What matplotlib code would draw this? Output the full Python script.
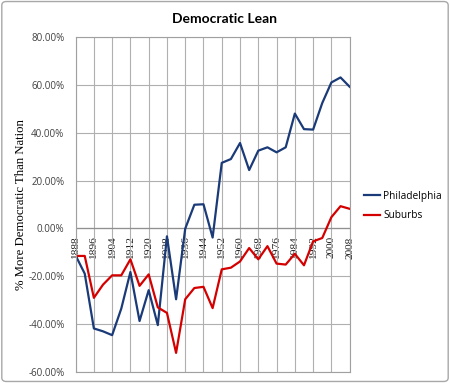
import matplotlib
matplotlib.use("Agg")
import matplotlib.pyplot as plt
from matplotlib.patches import FancyBboxPatch

years = list(range(1888, 2009, 4))
philadelphia = [-11.3, -18.9, -41.8, -43.0, -44.6, -33.5, -18.2, -38.7, -25.8, -40.4,
                -3.3, -29.6, -0.1, 9.9, 10.1, -3.8, 27.4, 29.0, 35.7, 24.4,
                32.5, 33.9, 31.8, 33.9, 48.0, 41.5, 41.3, 52.4, 61.0, 63.1, 59.2]
suburbs = [-11.5, -11.5, -29.0, -23.5, -19.6, -19.6, -12.9, -24.0, -19.2, -33.0,
           -35.3, -52.0, -29.6, -24.9, -24.4, -33.3, -17.1, -16.4, -13.8, -8.2,
           -12.9, -7.4, -14.7, -15.1, -10.6, -15.4, -5.4, -4.0, 4.7, 9.3, 8.2]
tick_years = list(range(1888, 2009, 8))
y_ticks = [-60, -40, -20, 0, 20, 40, 60, 80]

fig = plt.figure(figsize=(4.5, 3.83), dpi=100)
ax = fig.add_axes([0.168, 0.0287, 0.609, 0.8747])

ax.plot(years, philadelphia, color="#1A3A78", lw=1.6, label="Philadelphia")
ax.plot(years, suburbs, color="#D40000", lw=1.6, label="Suburbs")

ax.set_xlim(1888, 2008)
ax.set_ylim(-60, 80)
ax.set_yticks(y_ticks)
ax.set_yticklabels([f"{v:.2f}%" for v in y_ticks], fontsize=7, color="#404040",
                   family="Open Sans")
ax.set_xticks(tick_years)
ax.set_xticklabels([])
ax.tick_params(axis="x", length=0)
ax.tick_params(axis="y", length=0, pad=8)
ax.grid(True, color="#B0B0B0", lw=0.8)
ax.set_axisbelow(True)
for s in ["left", "right", "top", "bottom"]:
    ax.spines[s].set_color("#A0A0A0")
    ax.spines[s].set_linewidth(0.8)
ax.axhline(0, color="#909090", lw=0.9, zorder=1)

for yr in tick_years:
    ax.text(yr, -3.3, str(yr), rotation=90, ha="center", va="top",
            fontsize=8.2, family="Liberation Serif", color="#202020", zorder=0.5)

ax.set_ylabel("% More Democratic Than Nation", fontsize=9.2, family="Liberation Serif",
              labelpad=1)

fig.suptitle("Democratic Lean", x=0.5, y=0.967, fontsize=10, fontweight="bold",
             family="Lato")

leg = fig.legend(loc="center left", bbox_to_anchor=(0.788, 0.462), frameon=False,
                 handlelength=1.6, handletextpad=0.3, labelspacing=0.85,
                 prop={"family": "Open Sans", "size": 7.3})

border = FancyBboxPatch((0.004, 0.004), 0.992, 0.992, boxstyle="round,pad=0,rounding_size=0.01",
                        transform=fig.transFigure, fill=False, edgecolor="#A8A8A8", lw=1.0)
fig.patches.append(border)

fig.savefig("out.png", dpi=100)
